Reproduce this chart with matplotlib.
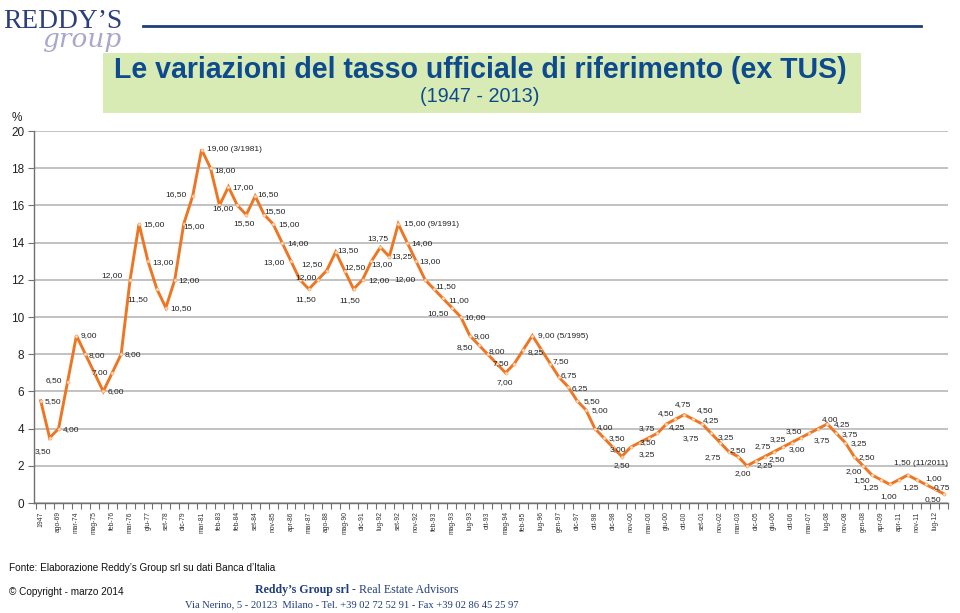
import matplotlib
matplotlib.use("Agg")
import matplotlib.pyplot as plt
from matplotlib import font_manager
from matplotlib.patches import Rectangle
from matplotlib.lines import Line2D

# ---------------- data ----------------
tick_labels = ["1947", "ago-69", "mar-74", "mag-75", "feb-76", "mar-76", "giu-77", "set-78",
               "dic-79", "mar-81", "feb-83", "feb-84", "set-84", "nov-85", "apr-86", "mar-87",
               "ago-88", "mag-90", "dic-91", "lug-92", "set-92", "nov-92", "feb-93", "mag-93",
               "lug-93", "ott-93", "mag-94", "feb-95", "lug-96", "gen-97", "dic-97", "ott-98",
               "dic-98", "nov-00", "mar-00", "giu-00", "ott-00", "set-01", "nov-02", "mar-03",
               "dic-05", "giu-06", "ott-06", "mar-07", "lug-08", "nov-08", "gen-08", "apr-09",
               "apr-11", "nov-11", "lug-12"]

rates = [5.50, 3.50, 4.00, 6.50, 9.00, 8.00, 7.00, 6.00, 7.00, 8.00,
         12.00, 15.00, 13.00, 11.50, 10.50, 12.00, 15.00, 16.50, 19.00, 18.00,
         16.00, 17.00, 16.00, 15.50, 16.50, 15.50, 15.00, 14.00, 13.00, 12.00,
         11.50, 12.00, 12.50, 13.50, 12.50, 11.50, 12.00, 13.00, 13.75, 13.25,
         15.00, 14.00, 13.00, 12.00, 11.50, 11.00, 10.50, 10.00, 9.00, 8.50,
         8.00, 7.50, 7.00, 7.50, 8.25, 9.00, 8.25, 7.50, 6.75, 6.25,
         5.50, 5.00, 4.00, 3.50, 3.00, 2.50, 3.00, 3.25, 3.50, 3.75,
         4.25, 4.50, 4.75, 4.50, 4.25, 3.75, 3.25, 2.75, 2.50, 2.00,
         2.25, 2.50, 2.75, 3.00, 3.25, 3.50, 3.75, 4.00, 4.25, 3.75,
         3.25, 2.50, 2.00, 1.50, 1.25, 1.00, 1.25, 1.50, 1.25, 1.00,
         0.75, 0.50]

notes = {18: "(3/1981)", 40: "(9/1991)", 55: "(5/1995)", 97: "(11/2011)"}

title = "Le variazioni del tasso ufficiale di riferimento (ex TUS)"
subtitle = "(1947 - 2013)"

# label placement (pixels: dx right, dy down) -- styling only
label_offsets = {
    0: (4, 1), 1: (-15, 14), 2: (4, 1), 3: (-22, -2), 4: (4, 0), 5: (3, 1), 7: (4, 0),
    8: (-21, 0), 9: (3, 0), 10: (-29, -4), 11: (4, 1), 12: (4, 1), 13: (-30, 10),
    14: (4, 1), 15: (4, 1), 16: (0, 3), 17: (-27, -2), 18: (5, 0), 19: (4, 2),
    20: (-7, 3), 21: (4, 1), 23: (-13, 9), 24: (2, -2), 25: (0, -3), 26: (5, 1),
    27: (5, 1), 28: (-28, 1), 29: (-5, -2), 30: (-14, 10), 32: (-25, -6), 33: (2, -1),
    34: (0, -3), 35: (-14, 11), 36: (6, 1), 37: (0, 3), 38: (-13, -9), 39: (2, 0),
    40: (6, 1), 41: (4, 1), 42: (3, 0), 43: (-31, 0), 44: (1, -3), 45: (5, 2),
    46: (-25, 6), 47: (4, 1), 48: (4, 1), 49: (-22, 3), 50: (1, -3), 51: (-4, 0),
    52: (-9, 10), 54: (4, 3), 55: (6, 1), 57: (2, -2), 58: (1, -2), 59: (4, 2),
    60: (7, 1), 61: (6, 1), 62: (2, -1), 63: (5, 1), 64: (-3, 2), 65: (-8, 9),
    67: (-1, 12), 68: (-9, 5), 69: (-19, -5), 70: (2, 4), 71: (-18, -6), 72: (-9, -10),
    73: (4, -9), 74: (1, -3), 75: (-28, 5), 76: (-2, -5), 77: (-24, 6), 78: (-8, -6),
    79: (-12, 8), 80: (1, 4), 81: (4, 3), 82: (-19, -5), 83: (6, 2), 84: (-22, -3),
    85: (-15, -6), 86: (4, 7), 87: (3, -9), 88: (6, 1), 89: (5, 1), 90: (5, 1),
    91: (4, 1), 92: (-17, 6), 93: (-19, 5), 94: (-19, 8), 95: (-10, 12), 96: (4, 8),
    97: (-14, -12), 99: (0, -6), 100: (-1, -2), 101: (-19, 6),
}


def has_font(name):
    try:
        font_manager.findfont(font_manager.FontProperties(family=name), fallback_to_default=False)
        return True
    except Exception:
        return False


SANS = "Liberation Sans" if has_font("Liberation Sans") else "DejaVu Sans"
SERIF = "Liberation Serif" if has_font("Liberation Serif") else "DejaVu Serif"
plt.rcParams["font.family"] = [SANS, "DejaVu Sans"]

W, H = 960, 613
fig = plt.figure(figsize=(W / 100, H / 100), dpi=100)
fig.patch.set_facecolor("white")


def fx(x):
    return x / W


def fy(y):
    return 1 - y / H


# ---------------- chart ----------------
ax = fig.add_axes([fx(34), fy(503), (948 - 34) / W, (503 - 131) / H])
x = list(range(len(rates)))
ax.plot(x, rates, color="#ee7623", lw=2.1, marker="o", ms=2.2,
        mfc="#fde3cc", mec="#f6a766", mew=0.5, zorder=3, solid_joinstyle="miter")

ax.set_xlim(-0.75, len(rates) - 0.5)
ax.set_ylim(0, 20)
ax.set_yticks(range(0, 21, 2))
ax.yaxis.grid(True, color="#bdbdbd", lw=1.3)
ax.set_axisbelow(True)
for s in ("top", "right"):
    ax.spines[s].set_visible(False)
for s in ("left", "bottom"):
    ax.spines[s].set_color("#707070")
    ax.spines[s].set_linewidth(1.0)
ax.tick_params(axis="y", length=4, width=0.8, color="#707070", labelsize=8.5,
               labelcolor="#222222", pad=3)

ax.set_xticks(x[::2])
ax.set_xticklabels(tick_labels, rotation=90, fontsize=4.9, color="#333333")
ax.set_xticks([i - 0.5 for i in range(len(rates) + 1)], minor=True)
ax.tick_params(axis="x", which="major", length=0, pad=6)
ax.tick_params(axis="x", which="minor", length=4, width=0.8, color="#707070")

for i, v in enumerate(rates):
    if i not in label_offsets:
        continue
    dx, dy = label_offsets[i]
    txt = f"{v:.2f}".replace(".", ",")
    if i in notes:
        txt += " " + notes[i]
    ax.annotate(txt, (i, v), xytext=(dx, -dy), textcoords="offset pixels",
                ha="left", va="center", fontsize=6, color="#222222", zorder=4)

# ---------------- decorations ----------------
fig.patches.append(Rectangle((fx(103), fy(113)), (861 - 103) / W, (113 - 53) / H,
                             transform=fig.transFigure, facecolor="#d8ebb4",
                             edgecolor="none", zorder=0))
fig.lines.append(Line2D([fx(143), fx(921)], [fy(26), fy(26)], transform=fig.transFigure,
                        color="#1e3f78", lw=2.0))

t_title = fig.text(fx(480), fy(70), title, ha="center", va="center", fontsize=18,
                   fontweight="bold", color="#0d4a8e", family=SANS)
t_sub = fig.text(fx(480), fy(97), subtitle, ha="center", va="center", fontsize=14,
                 color="#0d4a8e", family=SANS)
fig.text(fx(12), fy(118), "%", ha="left", va="center", fontsize=8.5, color="#222222")

t_logo = fig.text(fx(3), fy(28), "REDDY\u2019S", ha="left", va="baseline", fontsize=21,
                  color="#2b3f7c", family=SERIF)
t_group = fig.text(fx(42), fy(47), "group", ha="left", va="baseline", fontsize=19,
                   color="#aaa7ca", family="DejaVu Serif", style="italic")

fig.text(fx(9), fy(568), "Fonte: Elaborazione Reddy\u2019s Group srl su dati Banca d\u2019Italia",
         ha="left", va="center", fontsize=7.2, color="#111111", family=SANS)
fig.text(fx(9), fy(592), "\u00a9 Copyright - marzo 2014", ha="left", va="center",
         fontsize=7.2, color="#111111", family=SANS)
t_r1 = fig.text(fx(265), fy(590), "Reddy\u2019s Group srl", ha="left", va="center",
                fontsize=8.6, fontweight="bold", color="#1f3d7a", family=SERIF)
t_r2 = fig.text(fx(337), fy(590), " - Real Estate Advisors", ha="left", va="center",
                fontsize=8.6, color="#1f3d7a", family=SERIF)
fig.text(fx(352), fy(605),
         "Via Nerino, 5 - 20123  Milano - Tel. +39 02 72 52 91 - Fax +39 02 86 45 25 97",
         ha="center", va="center", fontsize=7.6, color="#1f3d7a", family=SERIF)

fig.canvas.draw()
rend = fig.canvas.get_renderer()


def fit(t, width):
    w = t.get_window_extent(rend).width
    if w > 0:
        t.set_fontsize(t.get_fontsize() * width / w)


fit(t_title, 735)
fit(t_sub, 120)
fit(t_logo, 119)

# place the two parts of the company line side by side, centred at x=357
w1 = t_r1.get_window_extent(rend).width
w2 = t_r2.get_window_extent(rend).width
start = 357 - (w1 + w2) / 2
t_r1.set_x(fx(start))
t_r2.set_x(fx(start + w1))

fig.savefig("out.png", dpi=100, facecolor="white")
